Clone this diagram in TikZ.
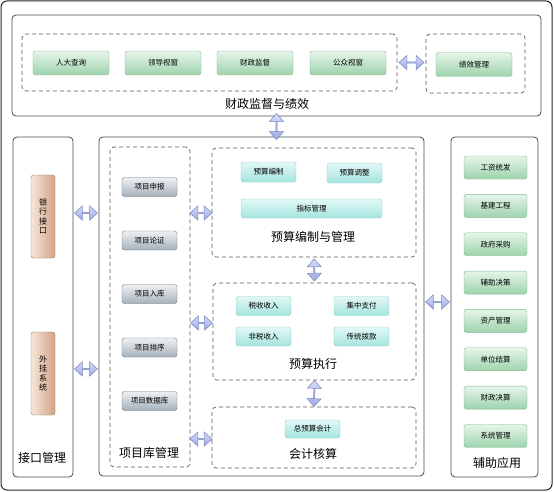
\documentclass[tikz,border=0pt]{standalone}
\usepackage{fontspec}
\setmainfont{Noto Sans CJK SC}
\usetikzlibrary{shapes.arrows}
\newcommand\btnwidth{55pt}
\newcommand\btnheight{19pt}
\definecolor{frameline}{HTML}{4A4A4A}
\definecolor{dashline}{HTML}{5A5A5A}
\definecolor{greentop}{HTML}{E6F5EA}
\definecolor{greenbot}{HTML}{9ED3AC}
\definecolor{greenline}{HTML}{84B792}
\definecolor{cyantop}{HTML}{E2F8F6}
\definecolor{cyanbot}{HTML}{A4E4DF}
\definecolor{cyanline}{HTML}{92CFCA}
\definecolor{graytop}{HTML}{EEF1F3}
\definecolor{graybot}{HTML}{A6B1BA}
\definecolor{grayline}{HTML}{6C7780}
\definecolor{brownleft}{HTML}{F6E6DA}
\definecolor{brownright}{HTML}{D2A385}
\definecolor{brownline}{HTML}{9E7B66}
\definecolor{arrowtop}{HTML}{D3DBF8}
\definecolor{arrowbot}{HTML}{9EAAE2}
\definecolor{arrowline}{HTML}{7783C4}
\tikzstyle{panel} = [draw=frameline, line width=0.8pt, rounded corners=4pt, fill=white, inner sep=0pt]
\tikzstyle{group} = [draw=dashline, line width=0.7pt, dash pattern=on 4pt off 3pt, rounded corners=4pt, inner sep=0pt]
\tikzstyle{btn} = [rounded corners=2.5pt, inner sep=0pt, minimum width=\btnwidth, minimum height=\btnheight, font=\fontsize{7.5}{9}\selectfont]
\tikzstyle{greenbtn} = [btn, draw=greenline, top color=greentop, bottom color=greenbot, minimum width=76pt, minimum height=24pt]
\tikzstyle{cyanbtn} = [btn, draw=cyanline, top color=cyantop, bottom color=cyanbot]
\tikzstyle{graybtn} = [btn, draw=grayline, top color=graytop, bottom color=graybot]
\tikzstyle{brownbtn} = [btn, draw=brownline, left color=brownleft, right color=brownright, minimum width=24pt, minimum height=83pt, align=center, font=\fontsize{8}{9.5}\selectfont]
\tikzstyle{title} = [font=\fontsize{12}{14}\selectfont, inner sep=0pt]
\tikzset{fat/.style={double arrow, draw=arrowline, line width=0.5pt, top color=arrowtop, bottom color=arrowbot, double arrow head extend=3pt, double arrow tip angle=84, minimum height=#1, minimum width=14pt, inner sep=0pt}, fat/.default=24pt}

\begin{document}
\begin{tikzpicture}[x=1pt, y=-1pt]
	\useasboundingbox (0,0) rectangle (554,492);
	\node[draw=black!85, line width=1pt, rounded corners=6pt, fill=white, minimum width=551pt, minimum height=489pt, inner sep=0pt] (frame) at (276.5,245.5) {};

	\node[panel, minimum width=529pt, minimum height=101pt] (fin) at (276.5,65.5) {};
	\node[group, minimum width=375pt, minimum height=57pt] (view) at (209.5,62.5) {};
	\node[group, minimum width=99pt, minimum height=59pt] (perf) at (475.5,63.5) {};
	\node[greenbtn] (rd) at (71,63) {人大查询};
	\node[greenbtn] (ld) at (163,63) {领导视窗};
	\node[greenbtn] (cz) at (255,63) {财政监督};
	\node[greenbtn] (gz) at (348,63) {公众视窗};
	\node[greenbtn] (jx) at (474,64.5) {绩效管理};
	\node[title] (finT) at (267,104) {财政监督与绩效};

	\node[panel, minimum width=60pt, minimum height=340pt] (iface) at (43,307) {};
	\node[brownbtn] (bank) at (43,216.5) {银\\行\\接\\口};
	\node[brownbtn] (ext) at (43,373.5) {外\\挂\\系\\统};
	\node[title] (ifaceT) at (42,458) {接口管理};

	\node[panel, minimum width=325pt, minimum height=339pt] (mid) at (261.5,306.5) {};
	\node[group, minimum width=80pt, minimum height=320pt] (proj) at (150,307) {};
	\foreach \t [count=\i] in {项目申报,项目论证,项目入库,项目排序,项目数据库}
		\node[graybtn] (prj\i) at (149.5,{187+(\i-1)*53.5}) {\t};
	\node[title] (projT) at (149,453) {项目库管理};

	\node[group, minimum width=204pt, minimum height=109pt] (budget) at (314,202.5) {};
	\node[cyanbtn, minimum height=20pt] (bz) at (268.5,172) {预算编制};
	\node[cyanbtn, minimum height=20pt] (tz) at (354.5,173) {预算调整};
	\node[cyanbtn, minimum width=141pt] (zb) at (311.5,208.5) {指标管理};
	\node[title] (budgetT) at (313,237) {预算编制与管理};

	\node[group, minimum width=203pt, minimum height=97pt] (exec) at (314.5,331.5) {};
	\node[cyanbtn] (ss) at (263.5,306) {税收收入};
	\node[cyanbtn] (jz) at (361.5,306) {集中支付};
	\node[cyanbtn] (fs) at (263.5,336.5) {非税收入};
	\node[cyanbtn] (ct) at (361.5,336.5) {传统拨款};
	\node[title] (execT) at (313,364) {预算执行};

	\node[group, minimum width=204pt, minimum height=61pt] (acct) at (314,437.5) {};
	\node[cyanbtn, minimum height=18pt] (zys) at (312.5,429) {总预算会计};
	\node[title] (acctT) at (313,454) {会计核算};

	\node[panel, minimum width=87pt, minimum height=340pt] (aux) at (494.5,307) {};
	\foreach \t [count=\i] in {工资统发,基建工程,政府采购,辅助决策,资产管理,单位结算,财政决算,系统管理}
		\node[greenbtn, minimum width=63pt, minimum height=23pt] (aux\i) at (495.5,{167.5+(\i-1)*38.35}) {\t};
	\node[title] (auxT) at (497,463) {辅助应用};

	\coordinate (row1) at (0,213);
	\coordinate (row2) at (0,323);
	\coordinate (row3) at (0,369);
	\coordinate (row4) at (0,439);
	\coordinate (row5) at (0,302);

	\path (view.east) -- (view.east -| perf.west) node[midway, sloped, fat=25pt] (a1) {};
	\path (fin.south) -- (fin.south |- mid.north) node[midway, sloped, fat=26pt] (a2) {};
	\path (iface.east |- row1) -- (mid.west |- row1) node[midway, sloped, fat=23pt] (a3) {};
	\path (iface.east |- row3) -- (mid.west |- row3) node[midway, sloped, fat=23pt] (a4) {};
	\path (proj.east |- row1) -- (budget.west |- row1) node[midway, sloped, fat=22pt] (a5) {};
	\path (proj.east |- row2) -- (exec.west |- row2) node[midway, sloped, fat=22pt] (a6) {};
	\path (proj.east |- row4) -- (acct.west |- row4) node[midway, sloped, fat=22pt] (a7) {};
	\path (budget.south) -- (exec.north) node[midway, sloped, fat=22pt] (a8) {};
	\path (exec.south) -- (acct.north) node[midway, sloped, fat=26pt] (a9) {};
	\path (mid.east |- row5) -- (aux.west |- row5) node[midway, sloped, fat=24pt] (a10) {};
\end{tikzpicture}
\end{document}
